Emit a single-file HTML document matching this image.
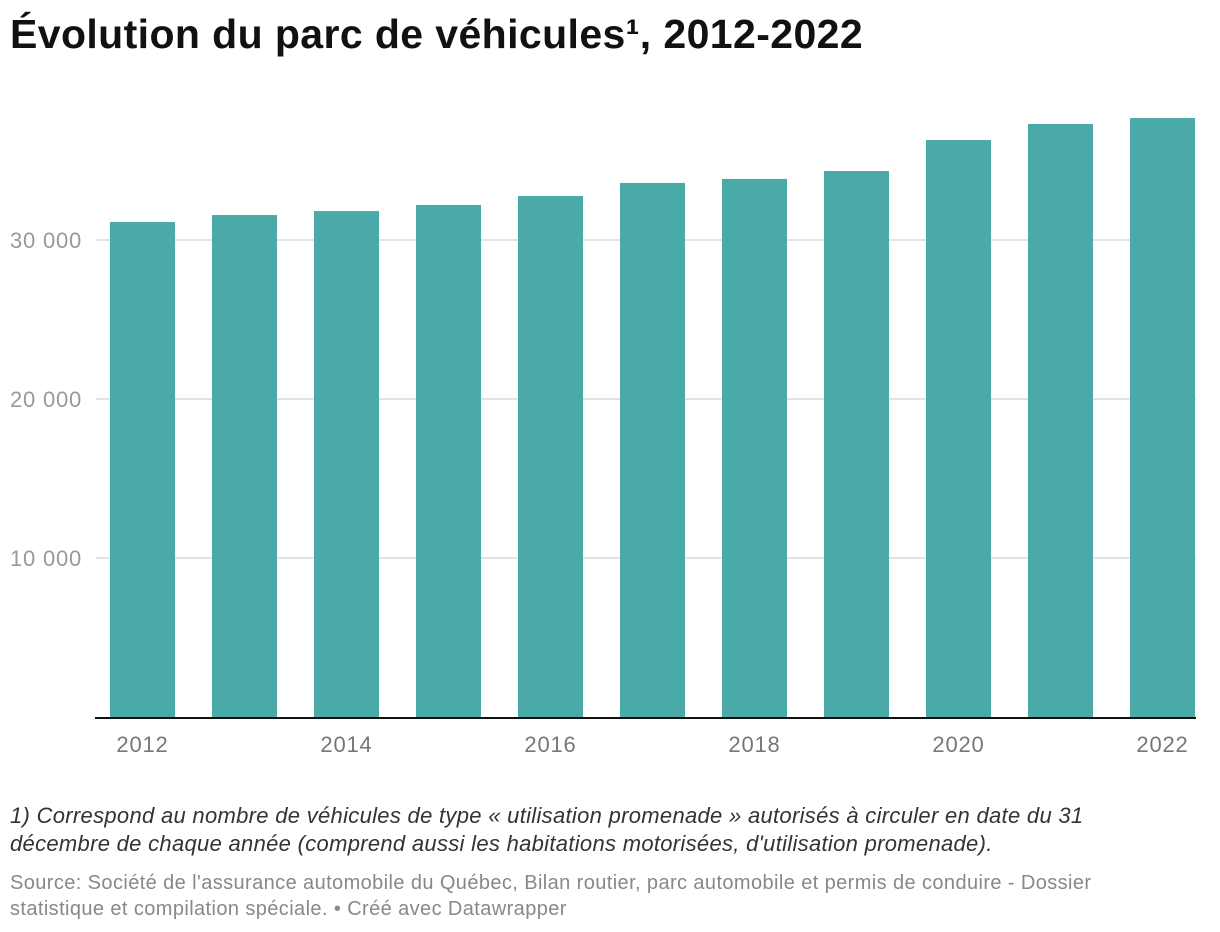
<!DOCTYPE html>
<html><head><meta charset="utf-8">
<style>
body{margin:0;background:#fff;width:1220px;height:932px;overflow:hidden;font-family:"Liberation Sans",sans-serif;}
#title{position:absolute;left:10px;top:11px;font-size:41px;font-weight:bold;color:#111;letter-spacing:0.4px;margin:0}
#note{position:absolute;left:10px;top:802px;font-size:22px;font-style:italic;color:#333;line-height:28px;width:1115px;letter-spacing:0.3px}
#source{position:absolute;left:10px;top:870px;font-size:20px;color:#888;line-height:26px;width:1125px;letter-spacing:0.4px}
svg{position:absolute;left:0;top:0}
</style></head><body>
<h1 id="title">Évolution du parc de véhicules¹, 2012-2022</h1>
<svg id="chart" width="1220" height="800"></svg>
<div id="note">1) Correspond au nombre de véhicules de type « utilisation promenade » autorisés à circuler en date du 31 décembre de chaque année (comprend aussi les habitations motorisées, d'utilisation promenade).</div>
<div id="source">Source: Société de l'assurance automobile du Québec, Bilan routier, parc automobile et permis de conduire - Dossier statistique et compilation spéciale. • Créé avec Datawrapper</div>
<script>
const years = [2012,2013,2014,2015,2016,2017,2018,2019,2020,2021,2022];
const values = [31130,31570,31820,32200,32770,33590,33840,34340,36290,37300,37670];
const yTicks = [10000,20000,30000];
const yTickLabels = ["10 000","20 000","30 000"];
const xLabelYears = [2012,2014,2016,2018,2020,2022];

const NS="http://www.w3.org/2000/svg";
const svg=document.getElementById('chart');
const y0=717, pxPer=159/10000;
const yScale=v=>y0-v*pxPer;
const bandStart=110, step=102, barW=65;
const xScale=i=>bandStart+i*step;
function mk(tag,attrs){const e=document.createElementNS(NS,tag);for(const k in attrs)e.setAttribute(k,attrs[k]);svg.appendChild(e);return e;}

yTicks.forEach((t,i)=>{
  const g=mk('line',{x1:96,x2:1196,y1:yScale(t),y2:yScale(t),stroke:'#e3e3e3','stroke-width':2});
  
  
  const tx=mk('text',{x:10,y:yScale(t)+8,'font-size':22,fill:'#999','letter-spacing':'0.8','font-family':'Liberation Sans, sans-serif'});
  tx.textContent=yTickLabels[i];
  
  
});
values.forEach((v,i)=>{
  const r=mk('rect',{x:xScale(i),y:yScale(v),width:barW,height:y0-yScale(v),fill:'#49aaa7'});
  
  
});
const ax=mk('line',{x1:95,x2:1196,y1:y0+1,y2:y0+1,stroke:'#111','stroke-width':2});


xLabelYears.forEach(yr=>{
  const i=years.indexOf(yr);
  const tx=mk('text',{x:xScale(i)+barW/2,y:752,'font-size':22,fill:'#777','text-anchor':'middle','letter-spacing':'0.8','font-family':'Liberation Sans, sans-serif'});
  tx.textContent=yr;
  
  
});
</script>
</body></html>
